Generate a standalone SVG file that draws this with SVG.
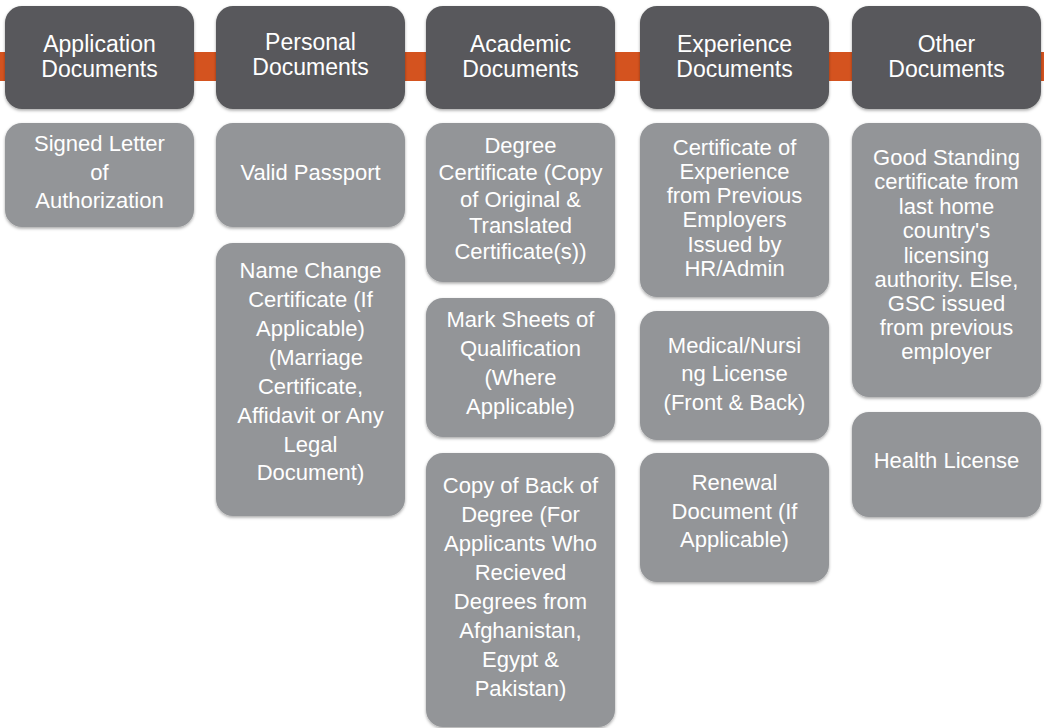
<svg xmlns="http://www.w3.org/2000/svg" width="1044" height="728" viewBox="0 0 1044 728">
<defs>
<filter id="sh" x="-10%" y="-10%" width="120%" height="125%">
<feDropShadow dx="0" dy="1.5" stdDeviation="1.6" flood-color="#000" flood-opacity="0.35"/>
</filter>
<style>
.hd{fill:#58595B;filter:url(#sh)}
.bx{fill:#939598;filter:url(#sh)}
text{font-family:"Liberation Sans",Arial,sans-serif;fill:#FFFFFF;text-anchor:middle}
.ht{font-size:23px}
.bt{font-size:22px}
</style>
</defs>
<rect width="1044" height="728" fill="#FFFFFF"/>
<g id="connectors">
<rect x="0" y="52" width="1044" height="29" fill="#D4531F"/>
</g>
<g id="h-application"><rect class="hd" x="5" y="6" width="189" height="103" rx="17"/>
<text class="ht"><tspan x="99.5" y="52">Application</tspan><tspan x="99.5" y="77">Documents</tspan></text></g>
<g id="h-personal"><rect class="hd" x="216" y="6" width="189" height="103" rx="17"/>
<text class="ht"><tspan x="310.5" y="50">Personal</tspan><tspan x="310.5" y="75">Documents</tspan></text></g>
<g id="h-academic"><rect class="hd" x="426" y="6" width="189" height="103" rx="17"/>
<text class="ht"><tspan x="520.5" y="52">Academic</tspan><tspan x="520.5" y="77">Documents</tspan></text></g>
<g id="h-experience"><rect class="hd" x="640" y="6" width="189" height="103" rx="17"/>
<text class="ht"><tspan x="734.5" y="52">Experience</tspan><tspan x="734.5" y="77">Documents</tspan></text></g>
<g id="h-other"><rect class="hd" x="852" y="6" width="189" height="103" rx="17"/>
<text class="ht"><tspan x="946.5" y="52">Other</tspan><tspan x="946.5" y="77">Documents</tspan></text></g>

<g id="n-signed-letter"><rect class="bx" x="5" y="123" width="189" height="104" rx="17"/>
<text class="bt"><tspan x="99.5" y="151">Signed Letter</tspan><tspan x="99.5" y="180">of</tspan><tspan x="99.5" y="208">Authorization</tspan></text></g>

<g id="n-valid-passport"><rect class="bx" x="216" y="123" width="189" height="104" rx="17"/>
<text class="bt" x="310.5" y="180">Valid Passport</text></g>

<g id="n-name-change"><rect class="bx" x="216" y="243" width="189" height="273" rx="17"/>
<text class="bt"><tspan x="310.5" y="278">Name Change</tspan><tspan x="310.5" y="307">Certificate (If</tspan><tspan x="310.5" y="336">Applicable)</tspan><tspan x="316" y="365">(Marriage</tspan><tspan x="310.5" y="394">Certificate,</tspan><tspan x="310.5" y="423">Affidavit or Any</tspan><tspan x="310.5" y="452">Legal</tspan><tspan x="310.5" y="480">Document)</tspan></text></g>

<g id="n-degree-certificate"><rect class="bx" x="426" y="123" width="189" height="159" rx="17"/>
<text class="bt"><tspan x="520.5" y="153">Degree</tspan><tspan x="520.5" y="180">Certificate (Copy</tspan><tspan x="520.5" y="207">of Original &amp;</tspan><tspan x="520.5" y="233">Translated</tspan><tspan x="520.5" y="259">Certificate(s))</tspan></text></g>

<g id="n-mark-sheets"><rect class="bx" x="426" y="298" width="189" height="139" rx="17"/>
<text class="bt"><tspan x="520.5" y="327">Mark Sheets of</tspan><tspan x="520.5" y="356">Qualification</tspan><tspan x="520.5" y="385">(Where</tspan><tspan x="520.5" y="414">Applicable)</tspan></text></g>

<g id="n-copy-back-degree"><rect class="bx" x="426" y="453" width="189" height="274" rx="17"/>
<text class="bt"><tspan x="520.5" y="493">Copy of Back of</tspan><tspan x="520.5" y="522">Degree (For</tspan><tspan x="520.5" y="551">Applicants Who</tspan><tspan x="520.5" y="580">Recieved</tspan><tspan x="520.5" y="609">Degrees from</tspan><tspan x="520.5" y="638">Afghanistan,</tspan><tspan x="520.5" y="667">Egypt &amp;</tspan><tspan x="520.5" y="696">Pakistan)</tspan></text></g>

<g id="n-certificate-experience"><rect class="bx" x="640" y="123" width="189" height="174" rx="17"/>
<text class="bt"><tspan x="734.5" y="155">Certificate of</tspan><tspan x="734.5" y="179">Experience</tspan><tspan x="734.5" y="203">from Previous</tspan><tspan x="734.5" y="227">Employers</tspan><tspan x="734.5" y="252">Issued by</tspan><tspan x="734.5" y="276">HR/Admin</tspan></text></g>

<g id="n-medical-license"><rect class="bx" x="640" y="311" width="189" height="129" rx="17"/>
<text class="bt"><tspan x="734.5" y="353">Medical/Nursi</tspan><tspan x="734.5" y="381">ng License</tspan><tspan x="734.5" y="410">(Front &amp; Back)</tspan></text></g>

<g id="n-renewal"><rect class="bx" x="640" y="453" width="189" height="129" rx="17"/>
<text class="bt"><tspan x="734.5" y="490">Renewal</tspan><tspan x="734.5" y="519">Document (If</tspan><tspan x="734.5" y="547">Applicable)</tspan></text></g>

<g id="n-good-standing"><rect class="bx" x="852" y="123" width="189" height="274" rx="17"/>
<text class="bt"><tspan x="946.5" y="165">Good Standing</tspan><tspan x="946.5" y="189">certificate from</tspan><tspan x="946.5" y="214">last home</tspan><tspan x="946.5" y="238">country's</tspan><tspan x="946.5" y="263">licensing</tspan><tspan x="946.5" y="287">authority. Else,</tspan><tspan x="946.5" y="311">GSC issued</tspan><tspan x="946.5" y="335">from previous</tspan><tspan x="946.5" y="359">employer</tspan></text></g>

<g id="n-health-license"><rect class="bx" x="852" y="412" width="189" height="105" rx="17"/>
<text class="bt" x="946.5" y="468">Health License</text></g>
</svg>
